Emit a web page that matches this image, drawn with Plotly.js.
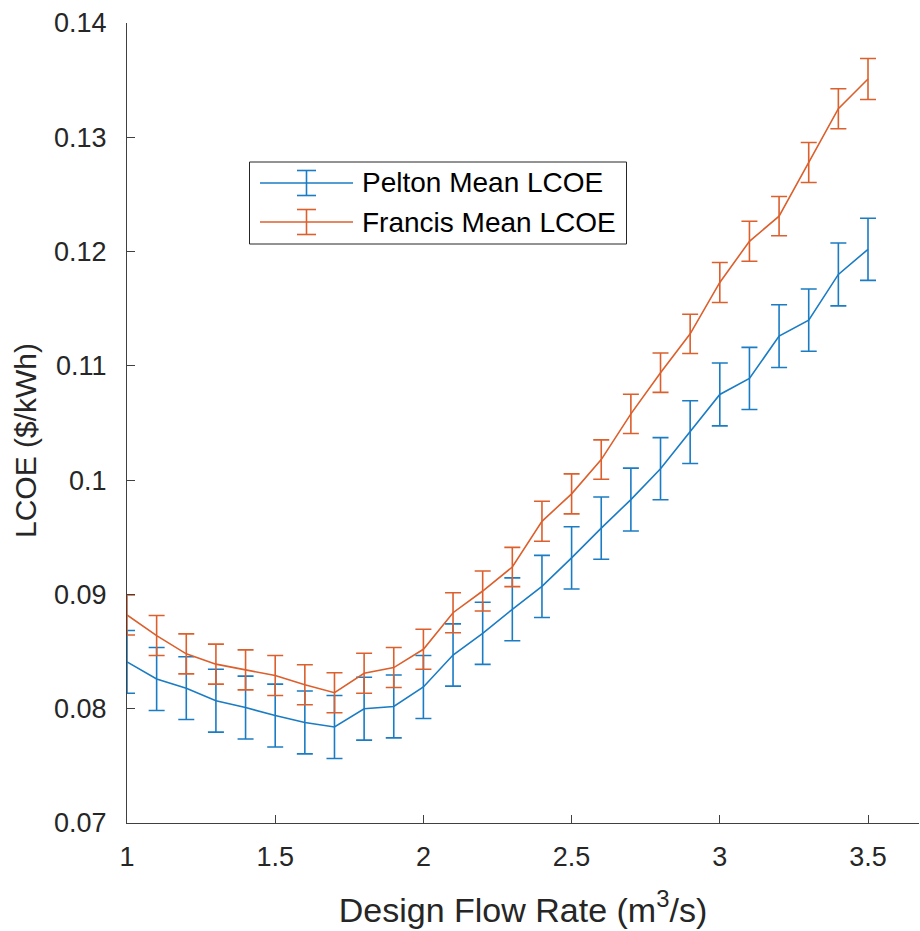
<!DOCTYPE html>
<html>
<head>
<meta charset="utf-8">
<script src="https://cdn.plot.ly/plotly-3.0.1.min.js"></script>
<style>
  html, body { margin: 0; padding: 0; background: #ffffff; }
  #chart { width: 920px; height: 931px; }
</style>
</head>
<body>
<div id="chart"></div>
<script>
// ---- data ----
var flowRate = [1.0, 1.1, 1.2, 1.3, 1.4, 1.5, 1.6, 1.7, 1.8, 1.9, 2.0, 2.1, 2.2,
                2.3, 2.4, 2.5, 2.6, 2.7, 2.8, 2.9, 3.0, 3.1, 3.2, 3.3, 3.4, 3.5];

var peltonMean = [0.0841, 0.0826, 0.0818, 0.0807, 0.0801, 0.0794, 0.0788, 0.0784, 0.0800,
                  0.0802, 0.0819, 0.0847, 0.0866, 0.0887, 0.0907, 0.0932, 0.0958, 0.0983,
                  0.1010, 0.1042, 0.1075, 0.1089, 0.1126, 0.1140, 0.1180, 0.1202];
var peltonErr = [0.00275, 0.00275, 0.00275, 0.00275, 0.00275, 0.00275, 0.00275, 0.00275, 0.00275,
                 0.00275, 0.00275, 0.00272, 0.00272, 0.00275, 0.00272, 0.00272, 0.00272, 0.00275,
                 0.00272, 0.00275, 0.00275, 0.00272, 0.00275, 0.00272, 0.00275, 0.00272];

var francisMean = [0.0882, 0.0864, 0.0848, 0.0839, 0.0834, 0.0829, 0.0821, 0.0814, 0.0831,
                   0.0836, 0.0852, 0.0884, 0.0903, 0.0924, 0.0964, 0.0988, 0.1018, 0.1058,
                   0.1094, 0.1128, 0.1173, 0.1209, 0.1231, 0.1278, 0.1325, 0.1351];
var francisErr = [0.00175, 0.00175, 0.00175, 0.00175, 0.00175, 0.00175, 0.00175, 0.00175, 0.00175,
                  0.00175, 0.00175, 0.00175, 0.00175, 0.00172, 0.00175, 0.00175, 0.00172, 0.00172,
                  0.00172, 0.00172, 0.00175, 0.00175, 0.00172, 0.00175, 0.00175, 0.00180];

var seriesNames = ["Pelton Mean LCOE", "Francis Mean LCOE"];
var xTickVals = [1, 1.5, 2, 2.5, 3, 3.5];
var xTickText = ["1", "1.5", "2", "2.5", "3", "3.5"];
var yTickVals = [0.07, 0.08, 0.09, 0.10, 0.11, 0.12, 0.13, 0.14];
var yTickText = ["0.07", "0.08", "0.09", "0.1", "0.11", "0.12", "0.13", "0.14"];
var xTitle = "Design Flow Rate (m<sup>3</sup>/s)";
var yTitle = "LCOE ($/kWh)";

// ---- styling ----
var blue = "#1a7cc4";
var orange = "#dc5f2c";
var axisColor = "#404040";
var fontFam = "'Liberation Sans', Arial, Helvetica, sans-serif";

var W = 920, H = 931;
var M = {l: 127, r: 1, t: 23, b: 108};
var plotW = W - M.l - M.r, plotH = H - M.t - M.b;
function px(x) { return (x - M.l) / plotW; }
function py(y) { return (H - M.b - y) / plotH; }

var traces = [
  {
    x: flowRate, y: peltonMean, type: "scatter", mode: "lines", name: seriesNames[0],
    line: {color: blue, width: 1.6},
    error_y: {type: "data", array: peltonErr, visible: true, color: blue, thickness: 1.6, width: 8},
    showlegend: false, hoverinfo: "skip"
  },
  {
    x: flowRate, y: francisMean, type: "scatter", mode: "lines", name: seriesNames[1],
    line: {color: orange, width: 1.6},
    error_y: {type: "data", array: francisErr, visible: true, color: orange, thickness: 1.6, width: 8},
    showlegend: false, hoverinfo: "skip"
  }
];

// custom legend box (MATLAB style, with error-bar glyph)
var shapes = [
  {type: "rect", xref: "paper", yref: "paper", x0: px(249.5), x1: px(626.5), y0: py(244), y1: py(162),
   line: {color: "#262626", width: 1}, fillcolor: "#ffffff", layer: "above"}
];
var annotations = [];
var rows = [{y: 183, c: blue, n: seriesNames[0], h: 12.5}, {y: 222, c: orange, n: seriesNames[1], h: 12.5}];
rows.forEach(function (r) {
  shapes.push({type: "line", xref: "paper", yref: "paper", x0: px(260), x1: px(353), y0: py(r.y), y1: py(r.y),
               line: {color: r.c, width: 1.6}, layer: "above"});
  shapes.push({type: "line", xref: "paper", yref: "paper", x0: px(306.5), x1: px(306.5), y0: py(r.y - r.h), y1: py(r.y + r.h),
               line: {color: r.c, width: 1.6}, layer: "above"});
  shapes.push({type: "line", xref: "paper", yref: "paper", x0: px(297), x1: px(316), y0: py(r.y - r.h), y1: py(r.y - r.h),
               line: {color: r.c, width: 1.6}, layer: "above"});
  shapes.push({type: "line", xref: "paper", yref: "paper", x0: px(297), x1: px(316), y0: py(r.y + r.h), y1: py(r.y + r.h),
               line: {color: r.c, width: 1.6}, layer: "above"});
  annotations.push({xref: "paper", yref: "paper", x: px(360), y: py(r.y), xanchor: "left", yanchor: "middle",
                    text: r.n, showarrow: false, font: {family: fontFam, size: 28, color: "#000000"}});
});

// y-axis title placed as rotated text (centred where the reference draws it)
annotations.push({xref: "paper", yref: "paper", x: px(25), y: py(441), xanchor: "center", yanchor: "middle",
                  text: yTitle, textangle: -90, showarrow: false,
                  font: {family: fontFam, size: 30, color: "#262626"}});

var layout = {
  width: W, height: H,
  margin: M,
  paper_bgcolor: "#ffffff", plot_bgcolor: "#ffffff",
  font: {family: fontFam, color: "#262626"},
  showlegend: false,
  xaxis: {
    range: [1, 1 + plotW / 296.4],
    tickvals: xTickVals, ticktext: xTickText,
    ticks: "inside", ticklen: 8, tickwidth: 1, tickcolor: axisColor,
    showline: true, linecolor: axisColor, linewidth: 1,
    showgrid: false, zeroline: false,
    tickfont: {family: fontFam, size: 27, color: "#262626"},
    ticklabelstandoff: 10,
    title: {text: xTitle, font: {family: fontFam, size: 34, color: "#262626"}, standoff: 26}
  },
  yaxis: {
    range: [0.07, 0.14],
    tickvals: yTickVals, ticktext: yTickText,
    ticks: "inside", ticklen: 8, tickwidth: 1, tickcolor: axisColor,
    showline: true, linecolor: axisColor, linewidth: 1,
    showgrid: false, zeroline: false,
    tickfont: {family: fontFam, size: 27, color: "#262626"},
    ticklabelstandoff: 14
  },
  shapes: shapes,
  annotations: annotations
};

Plotly.newPlot("chart", traces, layout, {staticPlot: true, displayModeBar: false});
</script>
</body>
</html>
